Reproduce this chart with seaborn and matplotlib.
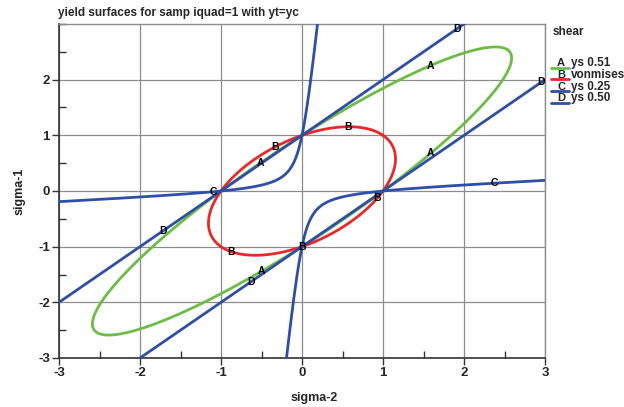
import numpy as np
import pandas as pd
import matplotlib
matplotlib.use("Agg")
import matplotlib.pyplot as plt
import seaborn as sns
from matplotlib.ticker import MultipleLocator

# Yield surfaces in the (sigma-2, sigma-1) plane:
#   s1^2 + s2^2 - k*s1*s2 = 1,   k = 1/ys^2 - 2  (ys = shear yield ratio)
curve_keys = ["A", "B", "C", "D"]
curve_names = ["ys 0.51", "vonmises", "ys 0.25", "ys 0.50"]
shear_yield = [0.51, 1.0 / np.sqrt(3.0), 0.25, 0.50]
curve_colors = ["#6cbd45", "#e8282b", "#2f4fa6", "#2f4fa6"]

# approximate spots where the curve letters sit along each surface
label_hints = {
    "A": [(1.58, 2.27), (1.59, 0.67), (-0.51, 0.51), (-0.51, -1.45)],
    "B": [(-0.33, 0.79), (0.57, 1.16), (0.93, -0.13), (-0.88, -1.09), (0.0, -1.0)],
    "C": [(-1.1, 0.0), (2.37, 0.15)],
    "D": [(1.89, 2.89), (2.95, 1.95), (-1.7, -0.7), (-0.62, -1.62)],
}

x_ticks = [-3, -2, -1, 0, 1, 2, 3]
y_ticks = [-3, -2, -1, 0, 1, 2]


def surface(ys):
    """Sample the surface; returns list of (s2, s1) segments."""
    k = 1.0 / ys ** 2 - 2.0
    r2 = np.sqrt(2.0)
    segs = []
    if k < 2.0 - 1e-9:
        a = 1.0 / np.sqrt(1.0 - k / 2.0)
        b = 1.0 / np.sqrt(1.0 + k / 2.0)
        t = np.linspace(0, 2 * np.pi, 721)
        u, v = a * np.cos(t), b * np.sin(t)
        segs.append(((u - v) / r2, (u + v) / r2))
    elif abs(k - 2.0) < 1e-9:
        u = np.linspace(-6, 6, 200)
        for sgn in (1, -1):
            v = sgn * np.full_like(u, 1.0 / np.sqrt(2.0))
            segs.append(((u - v) / r2, (u + v) / r2))
    else:
        u = np.linspace(-7, 7, 2001)
        for sgn in (1, -1):
            v = sgn * np.sqrt((1.0 + u ** 2 * (k / 2.0 - 1.0)) / (1.0 + k / 2.0))
            segs.append(((u - v) / r2, (u + v) / r2))
    return segs


rows = []
for key, ys in zip(curve_keys, shear_yield):
    for si, (s2, s1) in enumerate(surface(ys)):
        rows.append(pd.DataFrame({"sigma2": s2, "sigma1": s1,
                                  "curve": key, "seg": f"{key}{si}"}))
df = pd.concat(rows, ignore_index=True)

sns.set_theme(style="white")
plt.rcParams["font.family"] = ["Liberation Sans", "DejaVu Sans"]
plt.rcParams["font.weight"] = "bold"
plt.rcParams["axes.unicode_minus"] = False

fig = plt.figure(figsize=(6.24, 4.07), dpi=100)
W, H = 624.0, 407.0
ax = fig.add_axes([59 / W, 1 - 358 / H, (545 - 59) / W, (358 - 24) / H])

sns.lineplot(data=df, x="sigma2", y="sigma1", hue="curve", units="seg",
             estimator=None, sort=False, palette=dict(zip(curve_keys, curve_colors)),
             linewidth=2.0, legend=False, ax=ax, zorder=3)

ax.set_xlim(-3, 3)
ax.set_ylim(-3, 3)
ax.set_xticks(x_ticks)
ax.set_yticks(y_ticks)
ax.xaxis.set_minor_locator(MultipleLocator(0.5))
ax.yaxis.set_minor_locator(MultipleLocator(0.5))
ax.grid(True, which="major", color="#8c8c8c", linewidth=0.9, zorder=0)
ax.tick_params(which="major", direction="out", length=5, width=1, color="#333333",
               labelsize=9.5, pad=1.5, bottom=True, left=True)
ax.tick_params(which="minor", direction="in", length=5, width=1, color="#333333",
               bottom=True, left=True)
for lab in ax.get_xticklabels() + ax.get_yticklabels():
    lab.set_fontweight("bold")
for side in ("left", "bottom"):
    ax.spines[side].set_color("#333333")
    ax.spines[side].set_linewidth(1.2)
for side in ("top", "right"):
    ax.spines[side].set_color("#8c8c8c")
    ax.spines[side].set_linewidth(1.0)

ax.set_xlabel("sigma-2", fontsize=9, fontweight="bold")
ax.set_ylabel("sigma-1", fontsize=9, fontweight="bold")
ax.xaxis.set_label_coords(0.525, -0.103)
ax.yaxis.set_label_coords(-0.068, 0.5)

# curve letters, snapped onto the nearest sampled point of their surface
for key in curve_keys:
    sub = df[df["curve"] == key]
    for hx, hy in label_hints[key]:
        d = (sub["sigma2"] - hx) ** 2 + (sub["sigma1"] - hy) ** 2
        p = sub.loc[d.idxmin()]
        ax.text(p["sigma2"], p["sigma1"], key, ha="center", va="center",
                fontsize=7.5, fontweight="bold", color="black", zorder=5,
                clip_on=False)

fig.text(58 / W, 1 - 13 / H, "yield surfaces for samp iquad=1 with yt=yc",
         ha="left", va="center", fontsize=8.5, fontweight="bold")

# legend block
fig.text(553 / W, 1 - 32 / H, "shear", ha="left", va="center",
         fontsize=8.5, fontweight="bold")
for i, (key, name, col) in enumerate(zip(curve_keys, curve_names, curve_colors)):
    yc = 63 + i * 11.8
    fig.add_artist(plt.Line2D([551 / W, 569 / W], [1 - (yc + 4.5) / H] * 2,
                              color=col, linewidth=2.0))
    fig.text(561 / W, 1 - yc / H, key, ha="center", va="center",
             fontsize=8, fontweight="bold")
    fig.text(571 / W, 1 - yc / H, name, ha="left", va="center",
             fontsize=8.5, fontweight="bold")

fig.savefig("out.png", dpi=100)
